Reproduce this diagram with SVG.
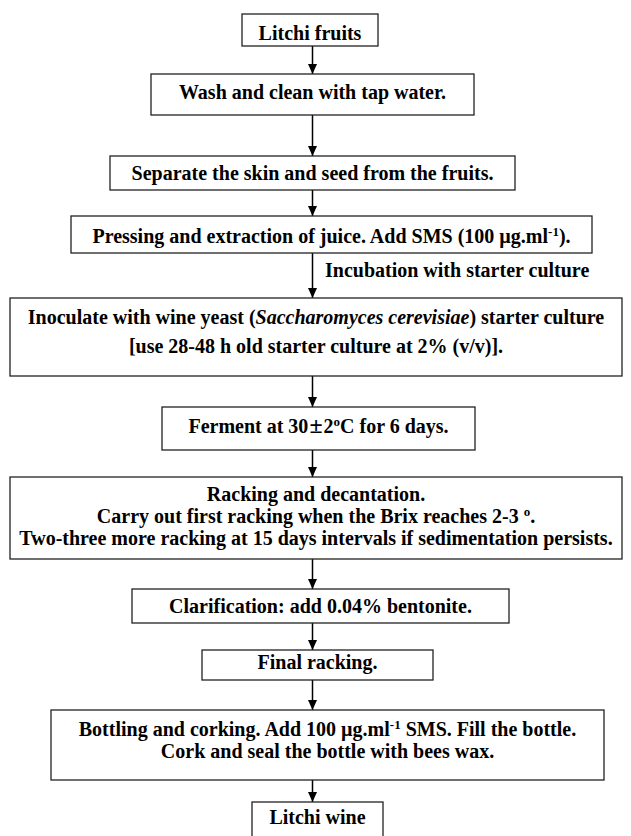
<svg xmlns="http://www.w3.org/2000/svg" width="631" height="836" viewBox="0 0 631 836">
<defs>
<style>
.box{fill:#fff;stroke:#222;stroke-width:1.3}
.t{font-family:"Liberation Serif","Times New Roman",serif;font-weight:bold;font-size:20px;fill:#000;text-anchor:middle}
.lbl{text-anchor:start}
.sup{font-size:13px}
.con{stroke:#000;stroke-width:1.5;fill:none}
</style>
<marker id="ah" markerUnits="userSpaceOnUse" markerWidth="10" markerHeight="9" refX="10" refY="4.5" orient="auto">
<path d="M0,0 L10,4.5 L0,9 Z" fill="#000"/>
</marker>
</defs>
<rect width="631" height="836" fill="#fff"/>
<g id="connectors">
<line class="con" x1="312.5" y1="46" x2="312.5" y2="74" marker-end="url(#ah)"/>
<line class="con" x1="312.5" y1="115" x2="312.5" y2="156" marker-end="url(#ah)"/>
<line class="con" x1="312.5" y1="190" x2="312.5" y2="216" marker-end="url(#ah)"/>
<line class="con" x1="312.5" y1="253" x2="312.5" y2="298" marker-end="url(#ah)"/>
<line class="con" x1="312.5" y1="376" x2="312.5" y2="407" marker-end="url(#ah)"/>
<line class="con" x1="312.5" y1="450" x2="312.5" y2="477" marker-end="url(#ah)"/>
<line class="con" x1="312.5" y1="559" x2="312.5" y2="589" marker-end="url(#ah)"/>
<line class="con" x1="312.5" y1="623" x2="312.5" y2="650" marker-end="url(#ah)"/>
<line class="con" x1="312.5" y1="680" x2="312.5" y2="710" marker-end="url(#ah)"/>
<line class="con" x1="312.5" y1="780" x2="312.5" y2="802" marker-end="url(#ah)"/>
<text class="t lbl" x="325" y="277">Incubation with starter culture</text>
</g>
<g id="n1">
<rect class="box" x="242" y="14" width="136" height="32"/>
<text class="t" x="310" y="40">Litchi fruits</text>
</g>
<g id="n2">
<rect class="box" x="151" y="74" width="323" height="41"/>
<text class="t" x="312.5" y="99">Wash and clean with tap water.</text>
</g>
<g id="n3">
<rect class="box" x="110" y="156" width="405" height="34"/>
<text class="t" x="312.5" y="180">Separate the skin and seed from the fruits.</text>
</g>
<g id="n4">
<rect class="box" x="71" y="216" width="521" height="37"/>
<text class="t" x="331.5" y="243">Pressing and extraction of juice. Add SMS (100 µg.ml<tspan class="sup" dy="-7">-1</tspan><tspan dy="7">).</tspan></text>
</g>
<g id="n5">
<rect class="box" x="10" y="298" width="612" height="78"/>
<text class="t" x="316" y="324">Inoculate with wine yeast (<tspan font-style="italic">Saccharomyces cerevisiae</tspan>) starter culture</text>
<text class="t" x="316" y="353">[use 28-48 h old starter culture at 2% (v/v)].</text>
</g>
<g id="n6">
<rect class="box" x="162" y="407" width="313" height="43"/>
<text class="t" x="318.5" y="433">Ferment at 30<tspan font-size="24px" dx="1">±</tspan><tspan dx="1">2</tspan><tspan class="sup" dy="-7">o</tspan><tspan dy="7">C for 6 days.</tspan></text>
</g>
<g id="n7">
<rect class="box" x="10" y="477" width="612" height="82"/>
<text class="t" x="316" y="501">Racking and decantation.</text>
<text class="t" x="316" y="523">Carry out first racking when the Brix reaches 2-3 <tspan class="sup" dy="-7">o</tspan><tspan dy="7">.</tspan></text>
<text class="t" x="316" y="545">Two-three more racking at 15 days intervals if sedimentation persists.</text>
</g>
<g id="n8">
<rect class="box" x="132" y="589" width="377" height="34"/>
<text class="t" x="320.5" y="613">Clarification: add 0.04% bentonite.</text>
</g>
<g id="n9">
<rect class="box" x="202" y="650" width="231" height="30"/>
<text class="t" x="317.5" y="669">Final racking.</text>
</g>
<g id="n10">
<rect class="box" x="51" y="710" width="553" height="70"/>
<text class="t" x="327.5" y="736">Bottling and corking. Add 100 µg.ml<tspan class="sup" dy="-7">-1</tspan><tspan dy="7"> SMS. Fill the bottle.</tspan></text>
<text class="t" x="327.5" y="758">Cork and seal the bottle with bees wax.</text>
</g>
<g id="n11">
<rect class="box" x="252" y="802" width="131" height="40"/>
<text class="t" x="317.5" y="824">Litchi wine</text>
</g>
</svg>
